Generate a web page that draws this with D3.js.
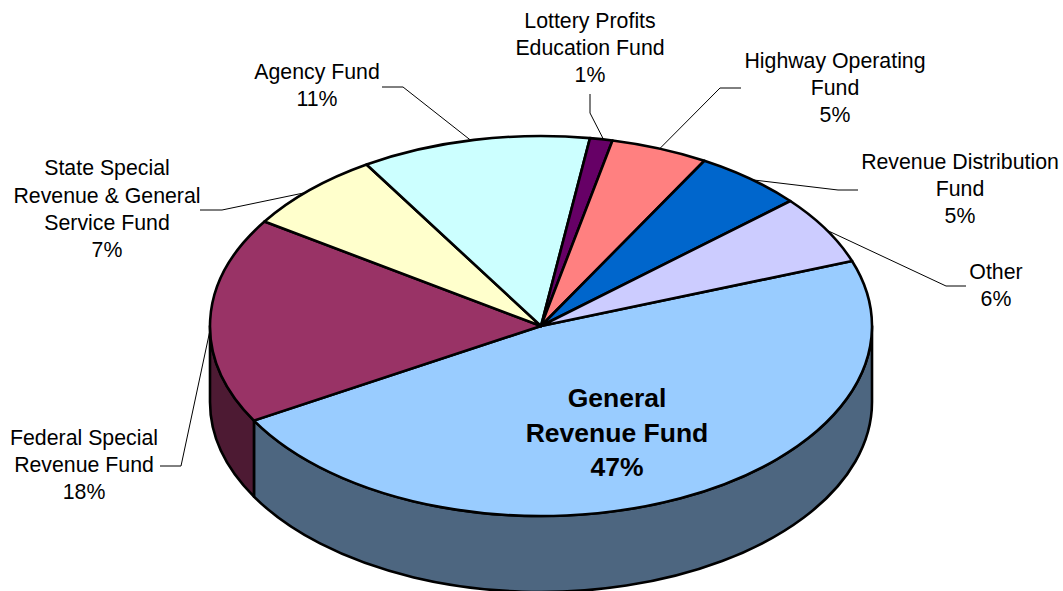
<!DOCTYPE html>
<html>
<head>
<meta charset="utf-8">
<script src="https://cdn.jsdelivr.net/npm/d3@7"></script>
<style>
  html, body { margin: 0; padding: 0; background: #fff; overflow: hidden; }
  svg { display: block; }
  text { font-family: "Liberation Sans", Arial, sans-serif; fill: #000; }
</style>
</head>
<body>
<svg></svg>
<script>
// Chart values, clockwise from the big slice
var categories = ["General Revenue Fund", "Federal Special Revenue Fund", "State Special Revenue & General Service Fund",
	"Agency Fund", "Lottery Profits Education Fund", "Highway Operating Fund", "Revenue Distribution Fund", "Other"];
var shares = [47.26, 17.56, 6.9, 11.2, 1.1, 4.75, 5.36, 5.87];
var percentLabels = ["47%", "18%", "7%", "11%", "1%", "5%", "5%", "6%"];
var topColors = ["#99CCFF", "#993366", "#FFFFCC", "#CCFFFF", "#660066", "#FF8080", "#0066CC", "#CCCCFF"];
var sideColors = ["#4D6680", "#4D1A33", "#808066", "#668080", "#330033", "#804040", "#003366", "#666680"];
var labelLines = [
	["General", "Revenue Fund"],
	["Federal Special", "Revenue Fund"],
	["State Special", "Revenue & General", "Service Fund"],
	["Agency Fund"],
	["Lottery Profits", "Education Fund"],
	["Highway Operating", "Fund"],
	["Revenue Distribution", "Fund"],
	["Other"]
];

// Label placement: text centre, first line middle, leader elbow and end, nudge of the leader on the rim (degrees)
var labelSpots = [
	{ x: 617, y: 398, step: 34.5, size: 26.5, weight: "bold" },
	{ x: 84, y: 438, step: 27, elbow: [181, 466], end: [160, 466], nudge: -2.9 },
	{ x: 107, y: 168, step: 27.3, elbow: [222, 210], end: [200, 210], nudge: -1.2 },
	{ x: 317, y: 72, step: 27, elbow: [403, 87], end: [382, 87], nudge: -0.6 },
	{ x: 590, y: 21, step: 27, elbow: [590, 113], end: [590, 94], nudge: 0.4 },
	{ x: 835, y: 61, step: 27, elbow: [720, 88], end: [741, 88], nudge: 0 },
	{ x: 960, y: 162, step: 27, elbow: [838, 190], end: [858, 190], nudge: 0.5 },
	{ x: 996, y: 272, step: 27, elbow: [946, 286], end: [966, 286], nudge: 0.3 }
];

var width = 1063, height = 591;
var cx = 541, cy = 326, rx = 331, ry = 190, depth = 76;
var startDeg = 70;

var svg = d3.select("svg").attr("width", width).attr("height", height);

var pie = d3.pie().sort(null)
	.startAngle(startDeg * Math.PI / 180)
	.endAngle((startDeg + 360) * Math.PI / 180);
var slices = pie(shares);

var arc = d3.arc().innerRadius(0).outerRadius(rx);

// a is clockwise from north, same as d3.pie
function rim(a) {
	return [cx + rx * Math.sin(a), cy - ry * Math.cos(a)];
}

// Side wall for the part of a slice that faces the viewer
function wallPath(d) {
	var a0 = Math.max(d.startAngle, Math.PI / 2);
	var a1 = Math.min(d.endAngle, Math.PI * 1.5);
	if (a1 <= a0) return null;
	var p0 = rim(a0), p1 = rim(a1);
	var large = a1 - a0 > Math.PI ? 1 : 0;
	return "M" + p0[0] + "," + p0[1] +
		"A" + rx + "," + ry + " 0 " + large + " 1 " + p1[0] + "," + p1[1] +
		"L" + p1[0] + "," + (p1[1] + depth) +
		"A" + rx + "," + ry + " 0 " + large + " 0 " + p0[0] + "," + (p0[1] + depth) + "Z";
}

// Leaders go under the pie
var leaders = svg.append("g").attr("class", "leaders");
leaders.selectAll("path")
		.data(slices.filter(function(d, i) { return labelSpots[i].elbow; }))
	.enter().append("path")
		.attr("fill", "none")
		.attr("stroke", "#000")
		.attr("stroke-width", 1)
		.attr("d", function(d) {
			var spot = labelSpots[d.index];
			var mid = (d.startAngle + d.endAngle) / 2 + spot.nudge * Math.PI / 180;
			return d3.line()([rim(mid), spot.elbow, spot.end]);
		});

// Walls
svg.append("g").attr("class", "walls")
	.selectAll("path")
		.data(slices.filter(function(d) { return wallPath(d); }))
	.enter().append("path")
		.attr("d", wallPath)
		.attr("fill", function(d) { return sideColors[d.index]; })
		.attr("stroke", "#000")
		.attr("stroke-width", 2.6)
		.attr("stroke-linejoin", "round");

// Top face, circle squashed to the ellipse
svg.append("g").attr("class", "top")
		.attr("transform", "translate(" + cx + "," + cy + ") scale(1," + (ry / rx) + ")")
	.selectAll("path")
		.data(slices)
	.enter().append("path")
		.attr("d", arc)
		.attr("fill", function(d) { return topColors[d.index]; })
		.attr("stroke", "#000")
		.attr("stroke-width", 2.6)
		.attr("stroke-linejoin", "round")
		.attr("vector-effect", "non-scaling-stroke");

// Labels
var labels = svg.append("g").attr("class", "labels")
	.selectAll("text")
		.data(categories)
	.enter().append("text")
		.attr("text-anchor", "middle")
		.attr("aria-label", function(d) { return d; })
		.attr("font-size", function(d, i) { return (labelSpots[i].size || 21.3) + "px"; })
		.attr("font-weight", function(d, i) { return labelSpots[i].weight || "normal"; });

labels.each(function(d, i) {
	var spot = labelSpots[i];
	var size = spot.size || 21.3;
	var rows = labelLines[i].concat([percentLabels[i]]);
	d3.select(this).selectAll("tspan")
			.data(rows)
		.enter().append("tspan")
			.attr("x", spot.x)
			.attr("y", function(r, j) { return spot.y + size * 0.35 + j * spot.step; })
			.text(function(r) { return r; });
});
</script>
</body>
</html>
